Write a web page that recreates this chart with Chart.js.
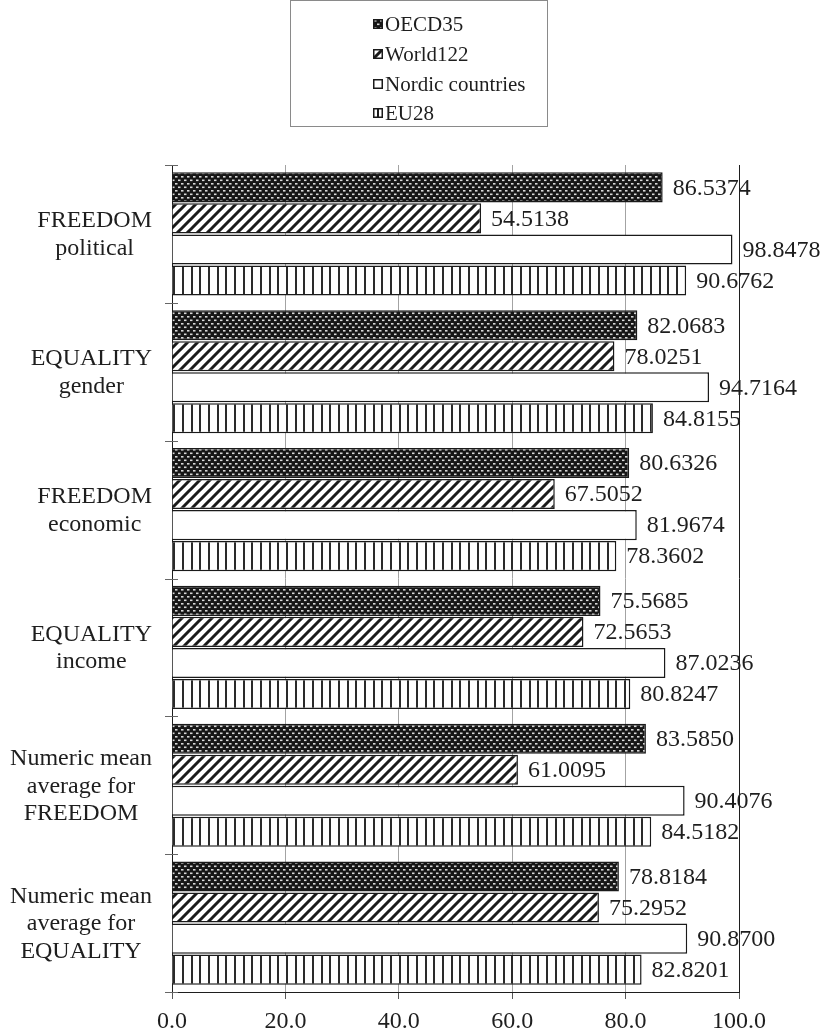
<!DOCTYPE html>
<html>
<head>
<meta charset="utf-8">
<script src="https://cdn.jsdelivr.net/npm/chart.js@4.4.1/dist/chart.umd.min.js"></script>
<style>
  html, body { margin: 0; padding: 0; background: #fff; }
  #wrap { position: relative; width: 829px; height: 1034px; }
  #legend {
    position: absolute; left: 290px; top: 0; width: 258px; height: 127px;
    border: 1px solid #8a8a8a; box-sizing: border-box; background: #fff;
    font-family: "Liberation Serif", "Times New Roman", serif; font-size: 21px; color: #1e1e1e;
  }
  .item { position: absolute; left: 82px; height: 24px; line-height: 24px; display: flex; align-items: center; white-space: nowrap; }
  .item canvas { margin-right: 2px; }
</style>
</head>
<body>
<div id="wrap">
  <canvas id="chart" width="829" height="1034"></canvas>
  <div id="legend"></div>
</div>
<script>
// Index categories (each entry = wrapped label lines)
const categories = [
  ['FREEDOM', 'political'],
  ['EQUALITY', 'gender'],
  ['FREEDOM', 'economic'],
  ['EQUALITY', 'income'],
  ['Numeric mean', 'average for', 'FREEDOM'],
  ['Numeric mean', 'average for', 'EQUALITY']
];

const seriesNames = ['OECD35', 'World122', 'Nordic countries', 'EU28'];

const oecd35   = [86.5374, 82.0683, 80.6326, 75.5685, 83.5850, 78.8184];
const world122 = [54.5138, 78.0251, 67.5052, 72.5653, 61.0095, 75.2952];
const nordic   = [98.8478, 94.7164, 81.9674, 87.0236, 90.4076, 90.8700];
const eu28     = [90.6762, 84.8155, 78.3602, 80.8247, 84.5182, 82.8201];

const xTicks = [0, 20, 40, 60, 80, 100];

const SERIF = '"Liberation Serif", "Times New Roman", serif';
const INK = '#1e1e1e';
const FONT_PX = 24;

// Monochrome fill patterns
function patternTile(kind) {
  const c = document.createElement('canvas');
  const g = c.getContext('2d');
  if (kind === 'dots') {
    c.width = 6; c.height = 7;
    g.fillStyle = '#161616'; g.fillRect(0, 0, 6, 7);
    g.fillStyle = '#d8d8d8';
    g.fillRect(1, 1, 2.5, 1.6);
    g.fillRect(4, 4.5, 2.5, 1.6);
    g.fillRect(-2, 4.5, 2.5, 1.6);
  } else if (kind === 'diag') {
    c.width = 10; c.height = 10;
    g.fillStyle = '#ffffff'; g.fillRect(0, 0, 10, 10);
    g.strokeStyle = '#1a1a1a'; g.lineWidth = 3;
    g.beginPath();
    g.moveTo(0, 10); g.lineTo(10, 0);
    g.moveTo(-5, 5); g.lineTo(5, -5);
    g.moveTo(5, 15); g.lineTo(15, 5);
    g.stroke();
  } else if (kind === 'vert') {
    c.width = 26; c.height = 4;
    g.fillStyle = '#ffffff'; g.fillRect(0, 0, 26, 4);
    g.fillStyle = '#2a2a2a';
    [0, 9, 17].forEach(x => g.fillRect(x, 0, 2, 4));
  } else {
    c.width = 4; c.height = 4;
    g.fillStyle = '#ffffff'; g.fillRect(0, 0, 4, 4);
  }
  return c;
}
function makePattern(kind) {
  const g = document.createElement('canvas').getContext('2d');
  return g.createPattern(patternTile(kind), 'repeat');
}
const kinds = ['dots', 'diag', 'plain', 'vert'];
const fills = kinds.map(makePattern);

// HTML legend with small patterned swatches
const legendEl = document.getElementById('legend');
const rowCenters = [23, 53, 83, 112];
seriesNames.forEach((name, i) => {
  const item = document.createElement('div');
  item.className = 'item';
  item.style.top = (rowCenters[i] - 12) + 'px';
  const sw = document.createElement('canvas');
  sw.width = 10; sw.height = 10;
  const sg = sw.getContext('2d');
  sg.fillStyle = sg.createPattern(patternTile(kinds[i] === 'vert' ? 'vertSmall' : kinds[i]), 'repeat');
  if (kinds[i] === 'vert') {
    sg.fillStyle = '#fff'; sg.fillRect(0, 0, 10, 10);
    sg.fillStyle = '#1a1a1a'; sg.fillRect(4, 0, 2, 10);
  } else {
    sg.fillRect(0, 0, 10, 10);
  }
  sg.strokeStyle = '#1a1a1a'; sg.lineWidth = 1.5;
  sg.strokeRect(0.75, 0.75, 8.5, 8.5);
  item.appendChild(sw);
  const t = document.createElement('span');
  t.textContent = name;
  item.appendChild(t);
  legendEl.appendChild(item);
});

// Value labels placed after each bar end
const valueLabels = {
  id: 'valueLabels',
  afterDatasetsDraw(chart) {
    const g = chart.ctx;
    g.save();
    g.font = FONT_PX + 'px ' + SERIF;
    g.fillStyle = INK;
    g.textAlign = 'left';
    g.textBaseline = 'middle';
    chart.data.datasets.forEach((ds, di) => {
      chart.getDatasetMeta(di).data.forEach((bar, i) => {
        g.fillText(ds.data[i].toFixed(4), bar.x + 10, bar.y + 1);
      });
    });
    g.restore();
  }
};

// Wrapped category labels, lines centred within a right-aligned block;
// plus the short category separator ticks crossing the value axis
const categoryLabels = {
  id: 'categoryLabels',
  afterDraw(chart) {
    const ys = chart.scales.y;
    const area = chart.chartArea;
    const g = chart.ctx;
    g.save();
    g.strokeStyle = '#666'; g.lineWidth = 1;
    const n = categories.length;
    for (let k = 0; k <= n; k++) {
      const y = Math.round(ys.getPixelForValue(k - 0.5)) + 0.5;
      g.beginPath(); g.moveTo(area.left - 7, y); g.lineTo(area.left + 6, y); g.stroke();
    }
    g.font = FONT_PX + 'px ' + SERIF;
    g.fillStyle = INK;
    g.textAlign = 'center';
    g.textBaseline = 'middle';
    const lh = 27.5;
    categories.forEach((lines, i) => {
      const cy = ys.getPixelForValue(i);
      const w = Math.max(...lines.map(l => g.measureText(l).width));
      const cx = 152 - w / 2;
      lines.forEach((l, j) => g.fillText(l, cx, cy + (j - (lines.length - 1) / 2) * lh + 1));
    });
    g.restore();
  }
};

new Chart(document.getElementById('chart'), {
  type: 'bar',
  data: {
    labels: categories.map(c => c.join(' ')),
    datasets: [
      { label: seriesNames[0], data: oecd35,   backgroundColor: fills[0] },
      { label: seriesNames[1], data: world122, backgroundColor: fills[1] },
      { label: seriesNames[2], data: nordic,   backgroundColor: fills[2] },
      { label: seriesNames[3], data: eu28,     backgroundColor: fills[3] }
    ].map(d => Object.assign(d, {
      borderColor: '#1a1a1a', borderWidth: 1.5,
      categoryPercentage: 0.9, barPercentage: 0.97
    }))
  },
  options: {
    indexAxis: 'y',
    responsive: false,
    animation: false,
    layout: { padding: { left: 0, right: 90, top: 165, bottom: 0 } },
    plugins: { legend: { display: false }, tooltip: { enabled: false } },
    scales: {
      x: {
        min: 0, max: 100,
        afterBuildTicks: s => { s.ticks = xTicks.map(v => ({ value: v })); },
        ticks: {
          callback: v => Number(v).toFixed(1),
          font: { family: SERIF, size: FONT_PX }, color: INK, padding: 8, maxRotation: 0
        },
        grid: {
          color: c => (c.tick && c.tick.value === 100) ? INK : ((c.tick && c.tick.value === 0) ? 'rgba(0,0,0,0)' : '#a3a3a3'),
          tickColor: '#555', tickLength: 7, lineWidth: 1
        },
        border: { color: INK, width: 1 },
        afterFit: s => { s.height = 42; }
      },
      y: {
        offset: true,
        ticks: { display: false },
        grid: { display: false },
        border: { color: INK, width: 1 },
        afterFit: s => { s.width = 172; }
      }
    }
  },
  plugins: [valueLabels, categoryLabels]
});
</script>
</body>
</html>
